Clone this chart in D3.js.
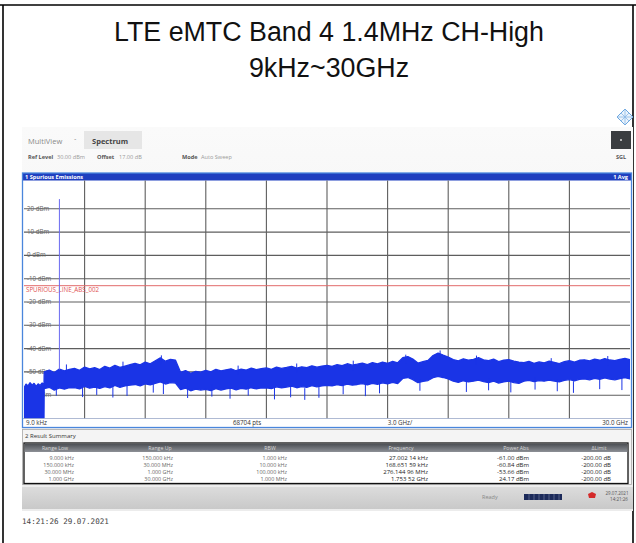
<!DOCTYPE html>
<html><head><meta charset="utf-8">
<script src="https://cdn.jsdelivr.net/npm/d3@7"></script>
<style>body{margin:0;background:#fff}svg{display:block}</style>
</head><body><svg id="c" width="636" height="543"></svg>
<script>
// ---------- data ----------
const titleLines = ["LTE eMTC Band 4 1.4MHz CH-High", "9kHz~30GHz"];
const yTicks = [20, 10, 0, -10, -20, -30, -40, -50, -60];
const yDomain = [-70, 30];                 // bottom / ref level (dBm)
const xDomainGHz = [0.000009, 30];         // 9 kHz .. 30 GHz
const xGridGHz = [3, 6, 9, 12, 15, 18, 21, 24, 27];
const limitLevel = -13;
const limitName = "SPURIOUS_LINE_ABS_002";
const axisLabels = ["9.0 kHz", "68704 pts", "3.0 GHz/", "30.0 GHz"];

// low sub-ranges (9 kHz .. 1 GHz): top of noise block (dBm), bottom sits at floor
const lowFreq = [0.000009, 0.1, 0.2, 0.3, 0.4, 0.5, 0.6, 0.7, 0.8, 0.9, 0.99];
const lowTop = [-56.8, -55.2, -56.0, -54.6, -55.7, -54.9, -56.2, -55.1, -55.8, -54.7, -55.6];
const lowBottom = [-70, -70, -70, -70, -70, -70, -70, -70, -70, -70, -70];

// 1 GHz .. 30 GHz noise band (RBW 1 MHz): upper / lower envelope (dBm)
const bandFreq = [1.00,1.25,1.50,1.75,2.00,2.25,2.50,2.75,3.00,3.25,3.50,3.75,4.00,4.25,4.50,4.75,5.00,5.25,
  5.50,5.75,6.00,6.25,6.50,6.75,7.00,7.25,7.50,7.75,8.00,8.25,8.50,8.75,9.00,9.25,9.50,9.75,10.00,10.25,10.50,
  10.75,11.00,11.25,11.50,11.75,12.00,12.25,12.50,12.75,13.00,13.25,13.50,13.75,14.00,14.25,14.50,14.75,15.00,
  15.25,15.50,15.75,16.00,16.25,16.50,16.75,17.00,17.25,17.50,17.75,18.00,18.25,18.50,18.75,19.00,19.25,19.50,
  19.75,20.00,20.25,20.50,20.75,21.00,21.25,21.50,21.75,22.00,22.25,22.50,22.75,23.00,23.25,23.50,23.75,24.00,
  24.25,24.50,24.75,25.00,25.25,25.50,25.75,26.00,26.25,26.50,26.75,27.00,27.25,27.50,27.75,28.00,28.25,28.50,
  28.75,29.00,29.25,29.50,29.75,30.00];
const bandTop = [-50.0,-49.2,-50.3,-48.8,-49.6,-48.9, -48.5,-49.3,-47.9,-48.7,-48.2,-49.0,
  -47.6,-48.4,-47.2,-48.1,-47.5,-46.9, -46.3,-47.0,-45.8,-46.5, -45.2,-44.0,-45.4,-44.6,-45.0,
  -50.2,-49.4,-50.6,-49.8,-50.1,
  -49.3,-50.0,-48.9,-49.6,-49.1,-48.7,-49.5,-48.8,-49.2,-48.4,-49.0,-48.6,
  -48.3,-48.9,-47.9,-48.5,-48.1,-47.6,-48.4,-47.8,-48.2,-47.4,-48.0,-47.5,-47.2,
  -47.6,-46.9,-47.3,-46.5,-47.1,-46.7,-46.2,-46.9,-46.0,-46.6,-45.8,-46.3,-45.5,-46.1,
  -43.9,-43.4,-44.5, -46.2,-45.6,-45.1, -43.0,-41.9,-42.8,-43.6,
  -44.7,-45.3,-44.4,-45.0,-44.6,-43.9,-44.8,-45.2,-44.5,-45.6,-45.0,-44.7,-45.4,-45.8,
  -46.0,-45.5,-46.3,-45.7,-46.1,-45.4,-45.9,-46.4,-45.6,-45.2,-45.8,-45.0,
  -44.8,-45.3,-44.5,-45.0,-44.3,-44.9,-45.2,-44.6,-44.2,-44.8];
const bandBottom = [-57.2,-56.6,-57.8,-56.9,-57.4,-56.8, -56.7,-57.3,-56.2,-57.0,-56.5,-57.1,
  -56.3,-56.9,-55.8,-56.6,-56.0,-55.7, -55.4,-56.0,-55.1,-55.6, -54.9,-54.3,-55.2,-54.6,-54.8,
  -57.6,-57.0,-58.1,-57.4,-57.8,
  -57.5,-58.0,-57.2,-57.8,-57.3,-57.0,-57.7,-57.1,-57.4,-56.8,-57.3,-56.9,
  -56.8,-57.2,-56.4,-56.9,-56.5,-56.1,-56.8,-56.3,-56.6,-55.9,-56.4,-56.0,-55.8,
  -56.0,-55.5,-55.9,-55.2,-55.7,-55.4,-55.0,-55.6,-54.9,-55.3,-54.7,-55.1,-54.5,-55.0,
  -52.8,-52.4,-53.3, -54.6,-54.1,-53.7, -52.5,-51.9,-52.4,-53.0,
  -54.0,-54.5,-53.8,-54.3,-54.0,-53.5,-54.2,-54.6,-54.0,-54.8,-54.3,-54.0,-54.6,-54.9,
  -54.0,-53.6,-54.2,-53.7,-54.0,-53.5,-53.9,-54.3,-53.6,-53.3,-53.8,-53.2,
  -53.0,-53.4,-52.8,-53.2,-52.6,-53.1,-53.4,-52.9,-52.5,-53.0];

// isolated noise excursions [GHz, dBm]
const downSpikes = [[1.6,-60.2],[2.9,-60.8],[3.6,-59.9],[4.4,-61.0],[5.1,-60.3],[6.4,-58.9],[6.9,-59.5],
  [8.1,-61.2],[9.3,-60.6],[10.2,-61.5],[11.1,-60.2],[12.4,-61.8],[13.2,-60.9],[13.9,-62.0],[14.6,-61.1],
  [15.8,-59.6],[16.9,-60.4],[17.6,-59.2],[19.6,-58.1],[21.9,-58.6],[23.0,-57.9],[24.1,-58.8],[25.3,-57.6],
  [26.4,-58.3],[27.2,-59.0],[28.5,-57.4],[29.6,-57.8]];
const upSpikes = [[2.1,-46.8],[4.9,-45.6],[6.8,-42.9],[10.6,-47.3],[13.5,-46.4],[16.3,-45.2],
  [18.9,-42.6],[20.6,-40.8],[22.4,-43.0],[26.1,-44.1],[28.9,-43.2]];

// carrier
const carrierGHz = 1.75352, carrierDbm = 24.17;

// result summary
const summaryHeaders = ["Range Low", "Range Up", "RBW", "Frequency", "Power Abs", "\u0394Limit"];
const rangeLow = ["9.000 kHz", "150.000 kHz", "30.000 MHz", "1.000 GHz"];
const rangeUp = ["150.000 kHz", "30.000 MHz", "1.000 GHz", "30.000 GHz"];
const rbw = ["1.000 kHz", "10.000 kHz", "100.000 kHz", "1.000 MHz"];
const peakFreq = ["27.002 14 kHz", "168.651 59 kHz", "276.144 96 MHz", "1.753 52 GHz"];
const powerAbs = [-61.00, -60.84, -53.66, 24.17];
const deltaLimit = [-200.00, -200.00, -200.00, -200.00];

// ---------- drawing ----------
const svg = d3.select("#c");
const F = "'Liberation Sans', Arial, sans-serif";
const UI = "'Open Sans','Noto Sans',sans-serif";

// outer table cell borders
svg.append("line").attr("x1",0).attr("x2",636).attr("y1",5).attr("y2",5).attr("stroke","#000").attr("stroke-width",1.6);
svg.append("line").attr("x1",3).attr("x2",3).attr("y1",5).attr("y2",543).attr("stroke","#000").attr("stroke-width",1.6);
svg.append("line").attr("x1",633).attr("x2",633).attr("y1",5).attr("y2",543).attr("stroke","#000").attr("stroke-width",1.6);

// titles
svg.selectAll("text.title").data(titleLines).join("text")
  .attr("x", 329).attr("y", (d,i)=> i===0 ? 41 : 77)
  .attr("text-anchor","middle").attr("font-family",F).attr("font-size",26.8).attr("fill","#111")
  .text(d=>d);

// diamond icon
const ic = svg.append("g").attr("transform","translate(625,117)");
ic.append("path").attr("d","M0,-8 L8,0 L0,8 L-8,0Z").attr("fill","#eaf3fc").attr("stroke","#6aa6e0").attr("stroke-width",1);
ic.append("path").attr("d","M0,-8 L0,8 M-8,0 L8,0 M-4,-4 L4,4 M4,-4 L-4,4").attr("stroke","#8ab8e6").attr("stroke-width",0.8);

// instrument panel background
const defs = svg.append("defs");
const g1 = defs.append("linearGradient").attr("id","hdr").attr("x1",0).attr("x2",0).attr("y1",0).attr("y2",1);
g1.append("stop").attr("offset",0).attr("stop-color","#fafafa");
g1.append("stop").attr("offset",1).attr("stop-color","#ececec");
svg.append("rect").attr("x",22).attr("y",127).attr("width",611).attr("height",384).attr("fill","url(#hdr)");

// header texts
svg.append("rect").attr("x",84).attr("y",131).attr("width",58).attr("height",18).attr("fill","#e6e6e6");
svg.append("text").attr("x",28).attr("y",144).attr("font-family",UI).attr("font-size",7.5).attr("fill","#8a8a8a").text("MultiView");
svg.append("text").attr("x",74).attr("y",143).attr("font-family",UI).attr("font-size",6).attr("fill","#8a8a8a").text("\u02C7");
svg.append("text").attr("x",92).attr("y",144).attr("font-family",UI).attr("font-size",7.5).attr("font-weight","bold").attr("fill","#444").text("Spectrum");
const info = [["Ref Level",28,true],["30.00 dBm",57,false],["Offset",97,true],["17.00 dB",119,false],["Mode",182,true],["Auto Sweep",201,false]];
svg.selectAll("text.info").data(info).join("text").attr("x",d=>d[1]).attr("y",159)
  .attr("font-family",UI).attr("font-size",5.6).attr("font-weight",d=>d[2]?"bold":"normal")
  .attr("fill",d=>d[2]?"#555":"#9a9a9a").text(d=>d[0]);
svg.append("rect").attr("x",611).attr("y",131).attr("width",20).attr("height",18).attr("fill","#3a3d40");
svg.append("circle").attr("cx",621).attr("cy",140).attr("r",1).attr("fill","#ddd");
svg.append("text").attr("x",621).attr("y",159).attr("text-anchor","middle").attr("font-family",UI).attr("font-size",5.5).attr("font-weight","bold").attr("fill","#555").text("SGL");

// diagram window
const x = d3.scaleLinear().domain(xDomainGHz).range([24, 630]);
const y = d3.scaleLinear().domain(yDomain).range([418.5, 185.5]);
const plotTop = 180.5, plotBottom = 418.5;

svg.append("rect").attr("x",22).attr("y",173).attr("width",610).attr("height",255).attr("fill","#fff");
svg.append("rect").attr("x",22).attr("y",173).attr("width",610).attr("height",7.5).attr("fill","#1f3fbf");
svg.append("text").attr("x",25).attr("y",179).attr("font-family",UI).attr("font-size",5.6).attr("font-weight","bold").attr("fill","#fff").text("1 Spurious Emissions");
svg.append("text").attr("x",628).attr("y",179).attr("text-anchor","end").attr("font-family",UI).attr("font-size",5.6).attr("font-weight","bold").attr("fill","#fff").text("1 Avg");

const plot = svg.append("g");
defs.append("clipPath").attr("id","pc").append("rect").attr("x",24).attr("y",plotTop).attr("width",606).attr("height",plotBottom-plotTop);

// grid
plot.selectAll("line.vg").data(xGridGHz).join("line")
  .attr("x1",d=>x(d)).attr("x2",d=>x(d)).attr("y1",plotTop).attr("y2",plotBottom)
  .attr("stroke","#5e5e5e").attr("stroke-width",1.1);
plot.selectAll("line.hg").data(yTicks).join("line")
  .attr("x1",24).attr("x2",630).attr("y1",d=>y(d)).attr("y2",d=>y(d))
  .attr("stroke","#5e5e5e").attr("stroke-width",1.1);

// y labels
plot.selectAll("text.yl").data(yTicks).join("text")
  .attr("x",27).attr("y",d=>y(d)+2).attr("font-family",UI).attr("font-size",6.2).attr("fill","#666")
  .text(d=>`${d} dBm`);

// limit line
plot.append("line").attr("x1",24).attr("x2",630).attr("y1",y(limitLevel)).attr("y2",y(limitLevel))
  .attr("stroke","#e26a6a").attr("stroke-width",1);
plot.append("text").attr("x",26).attr("y",y(limitLevel)+6.5).attr("font-family",UI).attr("font-size",6.2)
  .attr("fill","#e05050").text(limitName);

// trace
const tr = plot.append("g").attr("clip-path","url(#pc)");
const freqAll = lowFreq.concat(bandFreq);
const topAll = lowTop.concat(bandTop);
const botAll = lowBottom.concat(bandBottom);
const pts = freqAll.map((f,i)=>({f, t: topAll[i], b: botAll[i]}));
const TRACE = "#1a34e6";
tr.append("path").datum(pts)
  .attr("d", d3.area().x(d=>x(d.f)).y0(d=>y(d.b)).y1(d=>y(d.t)))
  .attr("fill",TRACE).attr("stroke",TRACE).attr("stroke-width",1.3).attr("stroke-linejoin","bevel");
tr.selectAll("line.ds").data(downSpikes).join("line")
  .attr("x1",d=>x(d[0])).attr("x2",d=>x(d[0])).attr("y1",d=>y(d[1]+5)).attr("y2",d=>y(d[1]))
  .attr("stroke",TRACE).attr("stroke-width",1);
tr.selectAll("line.us").data(upSpikes).join("line")
  .attr("x1",d=>x(d[0])).attr("x2",d=>x(d[0])).attr("y1",d=>y(d[1]-4)).attr("y2",d=>y(d[1]))
  .attr("stroke",TRACE).attr("stroke-width",1);
// carrier
tr.append("line").attr("x1",x(carrierGHz)).attr("x2",x(carrierGHz)).attr("y1",y(-49)).attr("y2",y(carrierDbm))
  .attr("stroke","#6a6af0").attr("stroke-width",1);

// frame + axis row
svg.append("line").attr("x1",22).attr("x2",632).attr("y1",plotBottom).attr("y2",plotBottom).attr("stroke","#9aa8c8").attr("stroke-width",0.8);
const axPos = [[26,"start"],[233,"start"],[400,"middle"],[628,"end"]];
svg.selectAll("text.ax").data(axisLabels).join("text")
  .attr("x",(d,i)=>axPos[i][0]).attr("text-anchor",(d,i)=>axPos[i][1]).attr("y",424.5)
  .attr("font-family",UI).attr("font-size",6.2).attr("fill","#333").text(d=>d);
svg.append("rect").attr("x",22.5).attr("y",173).attr("width",609).attr("height",254.5)
  .attr("fill","none").attr("stroke","#4a86dc").attr("stroke-width",1.3);

// result summary window
svg.append("rect").attr("x",22.5).attr("y",429.5).attr("width",609).attr("height",55).attr("fill","#f4f4f4").attr("stroke","#a8a8a8").attr("stroke-width",0.8);
svg.append("text").attr("x",25).attr("y",438).attr("font-family",UI).attr("font-size",6).attr("fill","#333").text("2 Result Summary");
const g2 = defs.append("linearGradient").attr("id","th").attr("x1",0).attr("x2",0).attr("y1",0).attr("y2",1);
g2.append("stop").attr("offset",0).attr("stop-color","#4a4d52");
g2.append("stop").attr("offset",1).attr("stop-color","#8d9096");
svg.append("rect").attr("x",24).attr("y",443).attr("width",604).attr("height",40.5).attr("fill","#fff").attr("stroke","#111").attr("stroke-width",1.3);
svg.append("rect").attr("x",24.6).attr("y",443.6).attr("width",602.8).attr("height",8.4).attr("fill","url(#th)");
const hdrX = [55, 160, 270, 401, 516, 599];
svg.selectAll("text.th").data(summaryHeaders).join("text")
  .attr("x",(d,i)=>hdrX[i]).attr("y",450).attr("text-anchor","middle")
  .attr("font-family",UI).attr("font-size",5.2).attr("fill","#d8d8d8").text(d=>d);
const rowY = [459.5, 466.6, 473.7, 480.8];
const cols = [
  {vals: rangeLow, x: 74, size: 5.4, fill: "#666"},
  {vals: rangeUp, x: 173, size: 5.4, fill: "#666"},
  {vals: rbw, x: 287, size: 5.4, fill: "#666"},
  {vals: peakFreq, x: 428, size: 6.0, fill: "#222"},
  {vals: powerAbs.map(v=>v.toFixed(2)+" dBm"), x: 529, size: 6.0, fill: "#222"},
  {vals: deltaLimit.map(v=>v.toFixed(2)+" dB"), x: 611, size: 6.0, fill: "#222"}
];
cols.forEach(c=>{
  svg.selectAll(null).data(c.vals).join("text")
    .attr("x",c.x).attr("y",(d,i)=>rowY[i]).attr("text-anchor","end")
    .attr("font-family",UI).attr("font-size",c.size).attr("fill",c.fill).text(d=>d);
});

// status bar
const g3 = defs.append("linearGradient").attr("id","sb").attr("x1",0).attr("x2",0).attr("y1",0).attr("y2",1);
g3.append("stop").attr("offset",0).attr("stop-color","#dcdcdc");
g3.append("stop").attr("offset",1).attr("stop-color","#c9c9c9");
svg.append("rect").attr("x",22).attr("y",487).attr("width",611).attr("height",22).attr("fill","url(#sb)");
svg.append("text").attr("x",482).attr("y",499).attr("font-family",UI).attr("font-size",5.5).attr("fill","#888").text("Ready");
svg.append("rect").attr("x",524).attr("y",494).attr("width",38).attr("height",6).attr("fill","#1c2a5a");
svg.selectAll("line.pb").data([529,534,539,544,549,554,559]).join("line")
  .attr("x1",d=>d).attr("x2",d=>d).attr("y1",494).attr("y2",500).attr("stroke","#7f8aa8").attr("stroke-width",0.6);
svg.append("path").attr("d","M588,494 l4,-2 l4,2 l-1,4 l-6,0z").attr("fill","#d42a2a");
svg.append("text").attr("x",617).attr("y",495).attr("text-anchor","middle").attr("font-family",UI).attr("font-size",4.5).attr("fill","#555").text("29.07.2021");
svg.append("text").attr("x",619).attr("y",501).attr("text-anchor","middle").attr("font-family",UI).attr("font-size",4.5).attr("fill","#555").text("14:21:26");

// timestamp
svg.append("text").attr("x",22).attr("y",524).attr("font-family","'DejaVu Sans Mono',monospace").attr("font-size",7.6).attr("fill","#444").text("14:21:26  29.07.2021");
</script></body></html>
